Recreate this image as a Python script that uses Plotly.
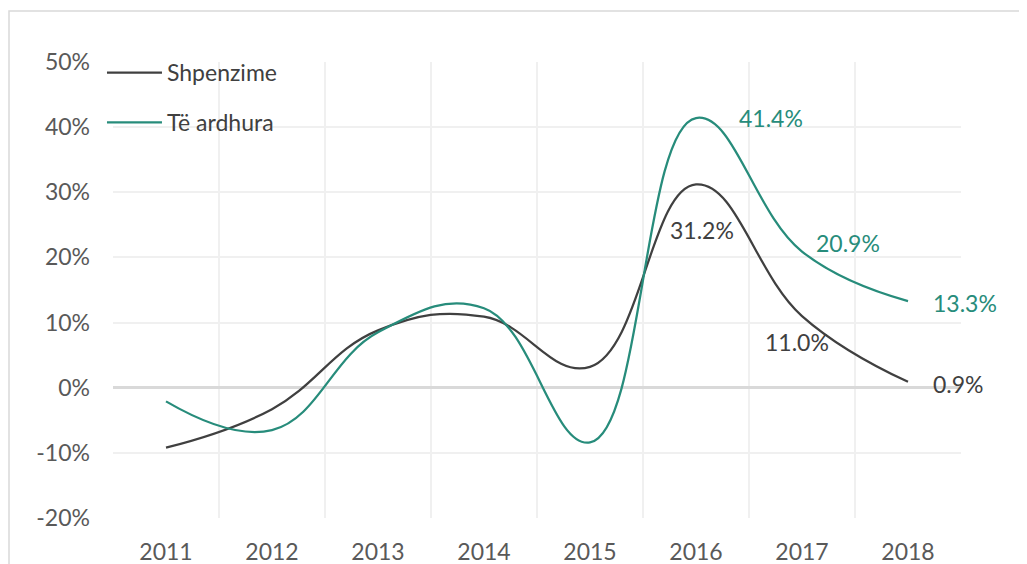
import plotly.graph_objects as go

years = ["2011", "2012", "2013", "2014", "2015", "2016", "2017", "2018"]
shpenzime = [-9.2, -3.3, 8.8, 10.9, 3.2, 31.2, 11.0, 0.9]
te_ardhura = [-2.1, -6.5, 8.5, 12.2, -8.4, 41.4, 20.9, 13.3]
y_tick_vals = [-20, -10, 0, 10, 20, 30, 40, 50]
y_tick_text = ["-20%", "-10%", "0%", "10%", "20%", "30%", "40%", "50%"]

labelled_years = ["2016", "2017", "2018"]

BLACK = "#404040"
TEAL = "#278C7B"
FONT = "Lato"
FS = 23

fig = go.Figure()
fig.add_trace(go.Scatter(
    x=years, y=shpenzime, name="Shpenzime", mode="lines",
    line=dict(color=BLACK, width=2.25, shape="spline", smoothing=1.2),
    legendgroup="a",
))
fig.add_trace(go.Scatter(
    x=years, y=te_ardhura, name="Të ardhura", mode="lines",
    line=dict(color=TEAL, width=2.25, shape="spline", smoothing=1.2),
    legendgroup="b",
))

# data labels (style offsets only)
teal_offsets = {"2016": (41, 0, "left"), "2017": (12, 9, "left"), "2018": (23, -2, "left")}
black_offsets = {"2016": (6, -46, "center"), "2017": (-5, -26, "center"), "2018": (23, -2, "left")}
for yr in labelled_years:
    i = years.index(yr)
    dx, dy, anc = teal_offsets[yr]
    fig.add_annotation(x=i, y=te_ardhura[i], xref="x", yref="y",
                       text=f"{te_ardhura[i]:.1f}%",
                       showarrow=False, xanchor=anc, yanchor="middle",
                       xshift=dx, yshift=dy, font=dict(family=FONT, size=FS, color=TEAL))
    dx, dy, anc = black_offsets[yr]
    fig.add_annotation(x=i, y=shpenzime[i], xref="x", yref="y",
                       text=f"{shpenzime[i]:.1f}%",
                       showarrow=False, xanchor=anc, yanchor="middle",
                       xshift=dx, yshift=dy, font=dict(family=FONT, size=FS, color=BLACK))

# outer chart border
fig.add_shape(type="rect", xref="paper", yref="paper",
              x0=(9 - 113) / 848, x1=1.2, y0=-0.3, y1=(518 - 11) / 456,
              line=dict(color="#D9D9D9", width=1.5), layer="below")

fig.update_layout(
    width=1027, height=564,
    margin=dict(l=105, r=74, t=54, b=54, autoexpand=False),
    plot_bgcolor="white", paper_bgcolor="white",
    font=dict(family=FONT, size=FS, color="#595959"),
    showlegend=True,
    legend=dict(x=-0.013, y=1.024, xanchor="left", yanchor="top",
                bgcolor="rgba(0,0,0,0)", tracegroupgap=17, itemwidth=55,
                traceorder="grouped", font=dict(family=FONT, size=FS, color="#404040")),
    xaxis=dict(type="category", tickson="boundaries", showgrid=True,
               gridcolor="#F0F0F0", gridwidth=1.5, range=[-0.5, 7.5],
               ticks="", ticklabelstandoff=18, showline=False, zeroline=False,
               automargin=False,
               tickfont=dict(family=FONT, size=FS, color="#595959")),
    yaxis=dict(range=[-20, 50], tickvals=y_tick_vals, ticktext=y_tick_text,
               showgrid=True, gridcolor="#F0F0F0", gridwidth=1.5,
               zeroline=True, zerolinecolor="#D9D9D9", zerolinewidth=2.5,
               ticks="", ticklabelstandoff=22, showline=False, automargin=False,
               tickfont=dict(family=FONT, size=FS, color="#595959")),
)

fig.write_html("out.html")
